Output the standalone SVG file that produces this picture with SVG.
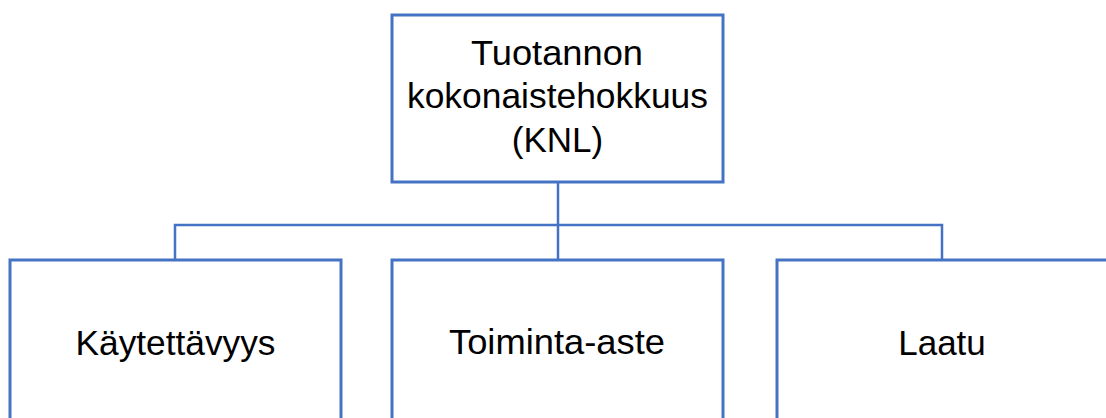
<svg xmlns="http://www.w3.org/2000/svg" width="1106" height="418" viewBox="0 0 1106 418">
<style>
.box{fill:#fff;stroke:#4472C4;stroke-width:3}
.conn{fill:none;stroke:#4472C4;stroke-width:2.5}
.t{font-family:"Liberation Sans",Arial,sans-serif;font-size:35px;fill:#000;text-anchor:middle}
</style>
<rect width="1106" height="418" fill="#fff"/>
<g id="connectors">
<path class="conn" d="M558 182 V225 M175 260 V225 H942 V260 M558 225 V260"/>
</g>
<g id="node-knl">
<rect class="box" x="392" y="15" width="331" height="167"/>
<text class="t" x="557" y="65" textLength="172" lengthAdjust="spacingAndGlyphs">Tuotannon</text>
<text class="t" x="557.5" y="108" textLength="301" lengthAdjust="spacingAndGlyphs">kokonaistehokkuus</text>
<text class="t" x="557.5" y="152">(KNL)</text>
</g>
<g id="node-kaytettavyys">
<rect class="box" x="10" y="260" width="331" height="170"/>
<text class="t" x="175.5" y="355" textLength="200" lengthAdjust="spacingAndGlyphs">Käytettävyys</text>
</g>
<g id="node-toiminta-aste">
<rect class="box" x="392" y="260" width="331" height="170"/>
<text class="t" x="557" y="354" textLength="216" lengthAdjust="spacingAndGlyphs">Toiminta-aste</text>
</g>
<g id="node-laatu">
<rect class="box" x="777" y="260" width="340" height="170"/>
<text class="t" x="942" y="355">Laatu</text>
</g>
</svg>
